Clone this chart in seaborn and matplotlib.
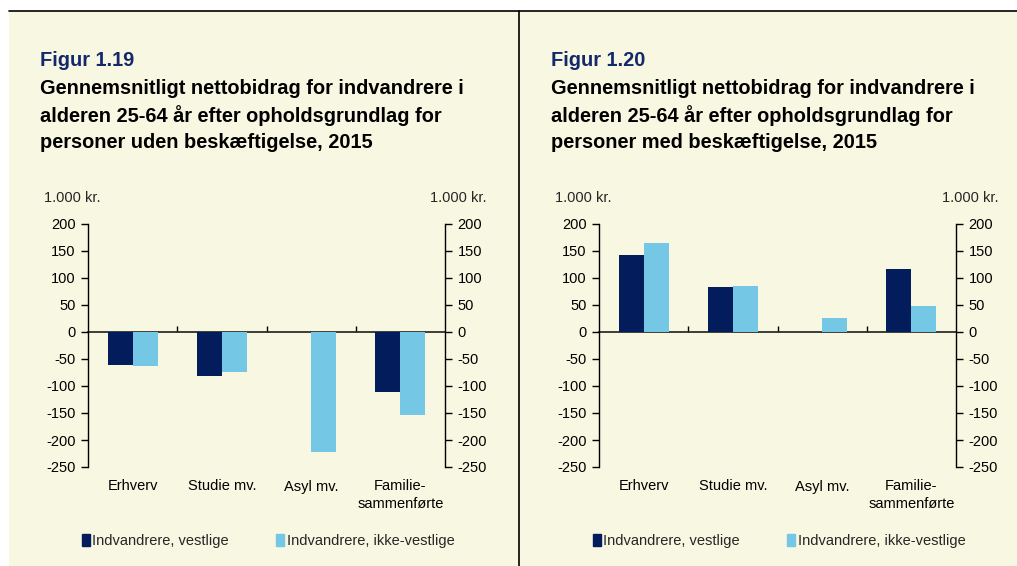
import matplotlib.pyplot as plt
import matplotlib.patches as mpatches
import matplotlib.lines as mlines
import pandas as pd
import seaborn as sns

kategorier = ["Erhverv", "Studie mv.", "Asyl mv.", "Familie-\nsammenførte"]
grupper = ["Indvandrere, vestlige", "Indvandrere, ikke-vestlige"]

# 1.000 kr. – personer uden beskæftigelse (fig 1.19)
uden_vestlige = [-61, -82, None, -112]
uden_ikke_vestlige = [-63, -75, -223, -154]

# 1.000 kr. – personer med beskæftigelse (fig 1.20)
med_vestlige = [143, 83, None, 117]
med_ikke_vestlige = [164, 85, 26, 49]

titler = ["Figur 1.19", "Figur 1.20"]
undertitler = [
    ["Gennemsnitligt nettobidrag for indvandrere i",
     "alderen 25-64 år efter opholdsgrundlag for",
     "personer uden beskæftigelse, 2015"],
    ["Gennemsnitligt nettobidrag for indvandrere i",
     "alderen 25-64 år efter opholdsgrundlag for",
     "personer med beskæftigelse, 2015"],
]
yticks = [200, 150, 100, 50, 0, -50, -100, -150, -200, -250]

MORK = "#031C5B"
LYS = "#74C8E6"
BAGGRUND = "#F8F7E1"
NAVY = "#14296B"


def lav_df(vestlige, ikke_vestlige):
    rows = []
    for kat, v1, v2 in zip(kategorier, vestlige, ikke_vestlige):
        rows.append({"kategori": kat, "gruppe": grupper[0], "vaerdi": v1})
        rows.append({"kategori": kat, "gruppe": grupper[1], "vaerdi": v2})
    return pd.DataFrame(rows).astype({"vaerdi": float})


sns.set_theme(style="white")
plt.rcParams["font.family"] = ["Liberation Sans", "DejaVu Sans"]
plt.rcParams["axes.unicode_minus"] = False

W, H = 1017, 566
fig = plt.figure(figsize=(W / 100, H / 100), dpi=100)
fig.patch.set_facecolor("white")


def fx(px):
    return px / W


def fy(py):
    return 1 - py / H


# cream background + frame lines
fig.patches.append(mpatches.Rectangle((fx(9), 0), 1 - fx(9), fy(11),
                                      transform=fig.transFigure, facecolor=BAGGRUND,
                                      edgecolor="none", zorder=-10))
fig.lines.append(mlines.Line2D([fx(9), 1], [fy(11), fy(11)], transform=fig.transFigure,
                               color="black", lw=1.2))
fig.lines.append(mlines.Line2D([fx(519), fx(519)], [0, fy(11)], transform=fig.transFigure,
                               color="black", lw=1.2))

paneler = [
    (lav_df(uden_vestlige, uden_ikke_vestlige), 88, 40),
    (lav_df(med_vestlige, med_ikke_vestlige), 599, 551),
]

for i, (df, ax_left, tx) in enumerate(paneler):
    ax = fig.add_axes([fx(ax_left), fy(467), fx(357), (467 - 224) / H])
    ax.set_facecolor("none")
    sns.barplot(data=df, x="kategori", y="vaerdi", hue="gruppe", order=kategorier,
                hue_order=grupper, palette=[MORK, LYS], width=0.56, saturation=1,
                linewidth=0, legend=False, ax=ax)
    ax.set_ylim(-250, 200)
    ax.set_xlim(-0.5, 3.5)
    ax.set_yticks(yticks)
    ax.set_xlabel("")
    ax.set_ylabel("")
    for s in ["top", "bottom"]:
        ax.spines[s].set_visible(False)
    for s in ["left", "right"]:
        ax.spines[s].set_visible(True)
        ax.spines[s].set_color("black")
        ax.spines[s].set_linewidth(1)
    ax.tick_params(axis="y", left=True, right=True, labelleft=True, labelright=True,
                   direction="out", length=5, width=1, color="black", pad=4,
                   labelsize=10.5, labelcolor="black")
    ax.tick_params(axis="x", bottom=False, length=0, pad=9, labelsize=10.5,
                   labelcolor="black")
    for lbl in ax.get_xticklabels():
        lbl.set_linespacing(1.3)

    # zero line with category separator ticks
    nul = (0 - (-250)) / (200 - (-250))
    sec = ax.secondary_xaxis(nul)
    sec.set_xticks([0.5, 1.5, 2.5])
    sec.set_xticklabels([])
    sec.spines["bottom"].set_color("#4a4a40")
    sec.spines["bottom"].set_linewidth(1.4)
    sec.tick_params(axis="x", direction="out", length=4, width=1, color="black")

    fig.text(fx(tx), fy(60), titler[i], fontsize=14.4, fontweight="bold", color=NAVY,
             va="center", ha="left")
    for j, linje in enumerate(undertitler[i]):
        fig.text(fx(tx), fy(89 + 27 * j), linje, fontsize=14.4, fontweight="bold",
                 color="black", va="center", ha="left")

    fig.text(fx(ax_left - 44), fy(198), "1.000 kr.", fontsize=10.5, va="center", ha="left")
    fig.text(fx(ax_left + 399), fy(198), "1.000 kr.", fontsize=10.5, va="center", ha="right")

    handles = [mpatches.Patch(color=MORK), mpatches.Patch(color=LYS)]
    ax.legend(handles, grupper, loc="center", bbox_to_anchor=(fx(ax_left + 180), fy(541)),
              bbox_transform=fig.transFigure, ncol=2, frameon=False, fontsize=10.5,
              handlelength=0.55, handleheight=0.9, handletextpad=0.2, columnspacing=3.2)

fig.savefig("out.png", dpi=100, facecolor=fig.get_facecolor())
